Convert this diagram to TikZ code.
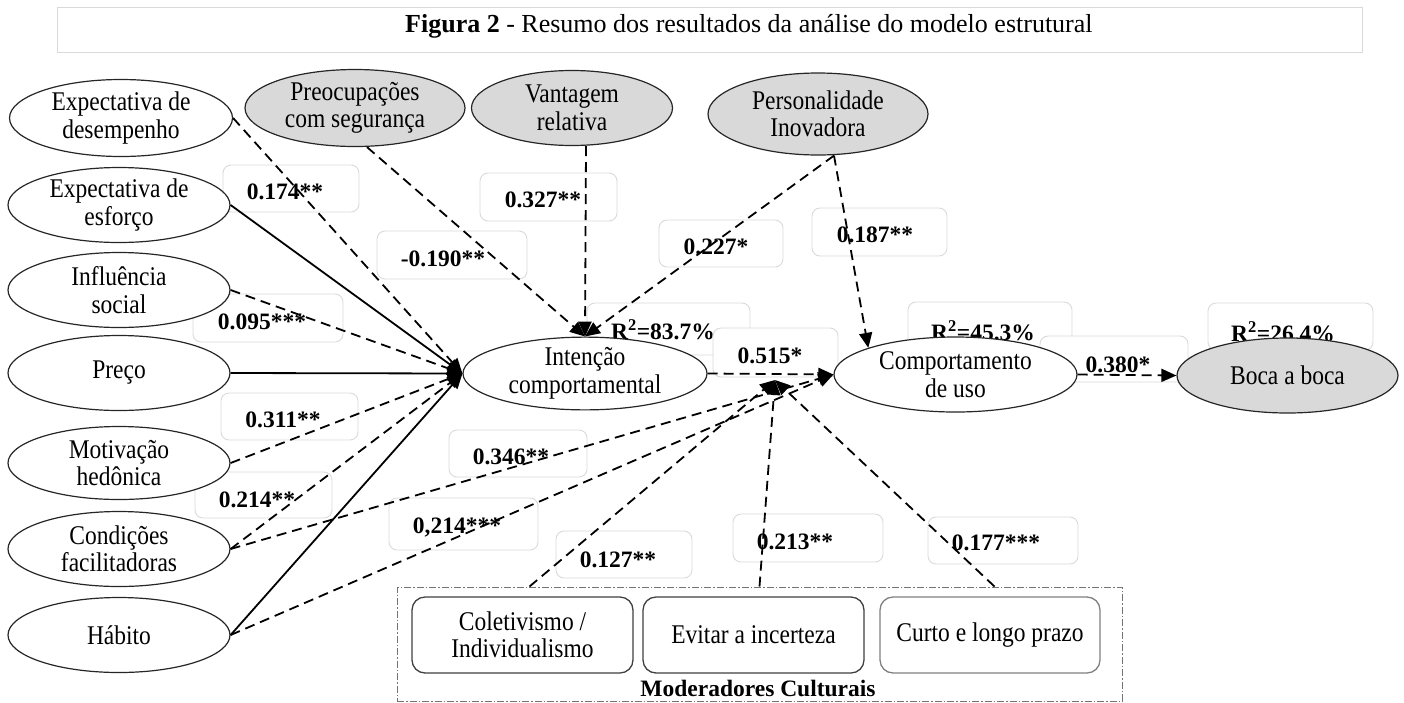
\documentclass[tikz,border=0pt]{standalone}
\usepackage{fontspec}
\setmainfont{Liberation Serif}
\newfontfamily\nodefam[FakeStretch=0.87]{Liberation Serif}
\usetikzlibrary{arrows.meta,shapes.geometric,calc}
\definecolor{ellgray}{HTML}{D9D9D9}
\definecolor{boxline}{HTML}{DADADA}
\newcommand{\ndfont}{\nodefam\fontsize{27}{27.5}\selectfont}
\newcommand{\lbfont}{\fontsize{23.5}{27}\selectfont\bfseries}
\newcommand{\ttlfont}{\fontsize{26}{30}\selectfont}
\begin{document}
\begin{tikzpicture}[x=1pt,y=-1pt,
  ell/.style={ellipse, draw=black!85, line width=1.2pt, fill=white, inner sep=0pt, align=center, font=\ndfont},
  gell/.style={ell, fill=ellgray},
  lblbox/.style={draw=boxline, rounded corners=8pt, line width=0.9pt, fill=white, inner sep=0pt},
  lbl/.style={font=\lbfont, inner sep=0pt},
  modb/.style={draw=black!75, rounded corners=13pt, line width=1.3pt, fill=white, inner sep=0pt, align=center, font=\ndfont, minimum height=76pt},
  modframe/.style={draw=black!55, dash pattern=on 7pt off 2pt on 1.5pt off 2pt, line width=1pt, inner sep=0pt},
  conn/.style={line width=1.8pt, -{Triangle[length=15pt,width=13pt]}},
  dconn/.style={conn, dash pattern=on 10pt off 6pt}
]
\useasboundingbox (0,0) rectangle (1404,702);

% title
\node[draw=black!15, line width=1pt, minimum width=1305pt, minimum height=45pt, inner sep=0pt] (titlebox) at (709.5,29.5) {};
\node[font=\ttlfont, anchor=base west, inner sep=0pt] (title) at (405,32) {\textbf{Figura 2} - Resumo dos resultados da análise do modelo estrutural};

% label boxes
\node[lblbox, minimum width=136pt, minimum height=47pt] (b1) at (291,188.5) {};
\node[lbl] (l1) at (285,192) {0.174**};
\node[lblbox, minimum width=150pt, minimum height=48pt] (b2) at (452,255) {};
\node[lbl] (l2) at (443,259) {-0.190**};
\node[lblbox, minimum width=137pt, minimum height=48pt] (b3) at (548.5,197) {};
\node[lbl] (l3) at (543,200) {0.327**};
\node[lblbox, minimum width=150pt, minimum height=48pt] (b4) at (268,318) {};
\node[lbl] (l4) at (262,322) {0.095***};
\node[lblbox, minimum width=137pt, minimum height=47pt] (b5) at (289.5,416.5) {};
\node[lbl] (l5) at (283,420) {0.311**};
\node[lblbox, minimum width=138pt, minimum height=47pt] (b6) at (518,453.5) {};
\node[lbl] (l6) at (511,457) {0.346**};
\node[lblbox, minimum width=137pt, minimum height=46pt] (b7) at (263.5,495) {};
\node[lbl] (l7) at (257,500) {0.214**};
\node[lblbox, minimum width=149pt, minimum height=52pt] (b8) at (463.5,524) {};
\node[lbl] (l8) at (457,527) {0,214***};
\node[lblbox, minimum width=136pt, minimum height=47pt] (b9) at (624,554.5) {};
\node[lbl] (l9) at (618,560) {0.127**};
\node[lblbox, minimum width=150pt, minimum height=48pt] (b10) at (808,538) {};
\node[lbl] (l10) at (795,542) {0.213**};
\node[lblbox, minimum width=150pt, minimum height=47pt] (b11) at (1003,540.5) {};
\node[lbl] (l11) at (996,543) {0.177***};
\node[lblbox, minimum width=124pt, minimum height=47pt] (b12) at (721,243.5) {};
\node[lbl] (l12) at (716,247) {0.227*};
\node[lblbox, minimum width=135pt, minimum height=48pt] (b13) at (879.5,232) {};
\node[lbl] (l13) at (875,235) {0.187**};
\node[lblbox, minimum width=163pt, minimum height=52pt] (b14) at (668.5,329) {};
\node[lbl] (l14) at (663,330) {R\textsuperscript{2}=83.7\%};
\node[lblbox, minimum width=125pt, minimum height=49pt] (b15) at (775.5,352.5) {};
\node[lbl] (l15) at (770,356) {0.515*};
\node[lblbox, minimum width=164pt, minimum height=48pt] (b16) at (990,326) {};
\node[lbl] (l16) at (983,331) {R\textsuperscript{2}=45.3\%};
\node[lblbox, minimum width=148pt, minimum height=46pt] (b17) at (1114,359) {};
\node[lbl] (l17) at (1118,365) {0.380*};
\node[lblbox, minimum width=165pt, minimum height=47pt] (b18) at (1290.5,326.5) {};
\node[lbl] (l18) at (1283,332) {R\textsuperscript{2}=26.4\%};

% ellipses
\node[ell, minimum width=223pt, minimum height=77pt] (ped) at (121,118) {Expectativa de\\desempenho};
\node[ell, minimum width=222pt, minimum height=75pt] (pef) at (119,205) {Expectativa de\\esforço};
\node[ell, minimum width=222pt, minimum height=75pt] (inf) at (119,290) {Influência\\social};
\node[ell, minimum width=222pt, minimum height=75pt] (pre) at (119,373) {Preço};
\node[ell, minimum width=222pt, minimum height=73pt] (mot) at (119,463) {Motivação\\hedônica};
\node[ell, minimum width=222pt, minimum height=75pt] (con) at (119,549) {Condições\\facilitadoras};
\node[ell, minimum width=222pt, minimum height=75pt] (hab) at (119,635) {Hábito};
\node[gell, minimum width=220pt, minimum height=77pt] (seg) at (355,108) {Preocupações\\com segurança};
\node[gell, minimum width=201pt, minimum height=75pt] (van) at (572,108) {Vantagem\\relativa};
\node[gell, minimum width=220pt, minimum height=82pt] (per) at (818,114) {Personalidade\\Inovadora};
\node[ell, minimum width=244pt, minimum height=71pt] (int) at (585,373.5) {Intenção\\comportamental};
\node[ell, minimum width=243pt, minimum height=75pt] (com) at (955.5,374.5) {Comportamento\\de uso};
\node[gell, minimum width=221pt, minimum height=75pt] (boc) at (1287.5,375.5) {Boca a boca};

% moderators
\node[modframe, minimum width=725pt, minimum height=114pt] (modbox) at (759.5,644) {};
\node[modb, minimum width=221pt] (col) at (522.5,635) {Coletivismo /\\Individualismo};
\node[modb, minimum width=221pt] (evi) at (753.5,635) {Evitar a incerteza};
\node[modb, minimum width=220pt, draw=black!50] (cur) at (990,635) {Curto e longo prazo};
\node[font=\lbfont, inner sep=0pt] (modlbl) at (758,688) {Moderadores Culturais};

% connectors
\draw[dconn] (ped.east) -- (int.west);
\draw[conn] (pef.east) -- (int.west);
\draw[dconn] (inf.east) -- (int.west);
\draw[conn] (pre.east) -- (int.west);
\draw[dconn] (mot.east) -- (int.west);
\draw[dconn] (con.east) -- (int.west);
\draw[conn] (hab.east) -- (int.west);
\draw[dconn] (con.east) -- (com.west);
\draw[dconn] (hab.east) -- (com.west);
\draw[dconn] ($(seg.south)+(12,0)$) -- (int.north);
\draw[dconn] ($(van.south)+(14,0)$) -- (int.north);
\draw[dconn] ($(per.south)+(16,0)$) -- (int.north);
\draw[dconn] ($(per.south)+(16,0)$) -- (com.163);
\draw[dconn] (int.east) -- (com.west);
\draw[dconn] (com.east) -- (boc.west);
\coordinate (mod) at (775,380);
\draw[dconn] ($(modbox.north west)+(133,0)$) -- (mod);
\draw[dconn] ($(modbox.north west)+(363,0)$) -- (mod);
\draw[dconn] ($(modbox.north west)+(598,0)$) -- (mod);
\end{tikzpicture}
\end{document}
